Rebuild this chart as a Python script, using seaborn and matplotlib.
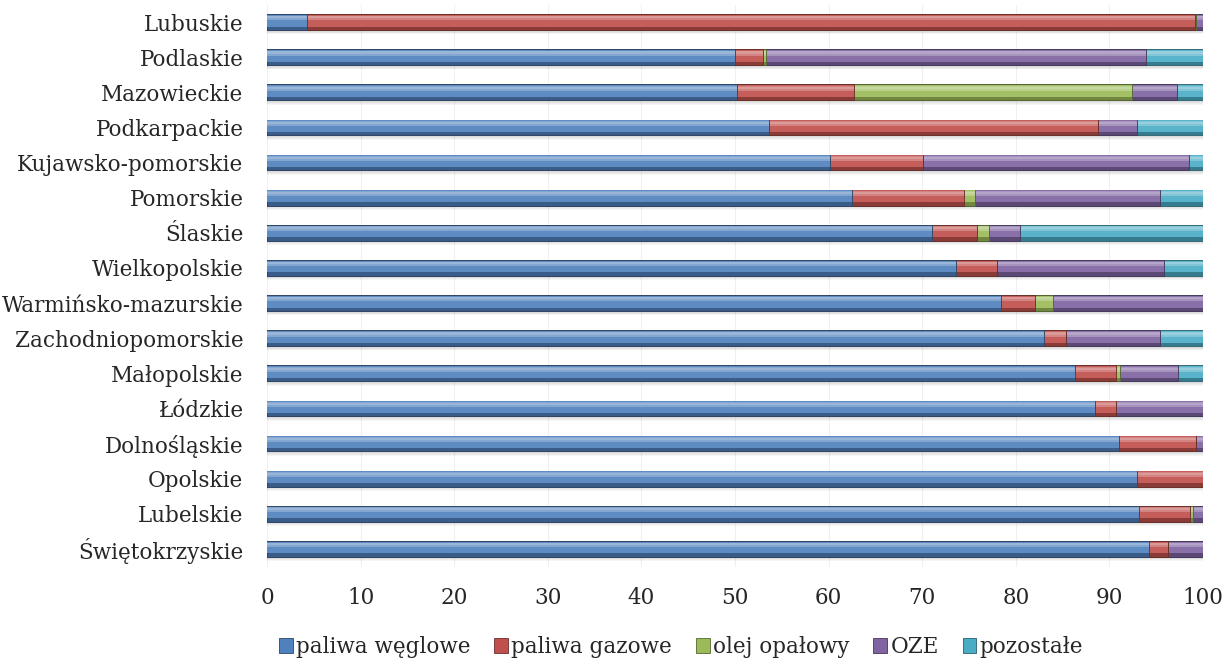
import seaborn as sns
import pandas as pd
import numpy as np
import matplotlib.pyplot as plt
from matplotlib.patches import Patch
import matplotlib.colors as mcolors

# regions, top to bottom as in the chart
regions = ['Lubuskie', 'Podlaskie', 'Mazowieckie', 'Podkarpackie', 'Kujawsko-pomorskie',
           'Pomorskie', 'Ślaskie', 'Wielkopolskie', 'Warmińsko-mazurskie', 'Zachodniopomorskie',
           'Małopolskie', 'Łódzkie', 'Dolnośląskie', 'Opolskie', 'Lubelskie', 'Świętokrzyskie']

# share of heating source, %
weglowe = [4.3, 50.0, 50.2, 53.6, 60.2, 62.5, 71.0, 73.6, 78.4, 83.0, 86.3, 88.5, 91.0, 92.9, 93.2, 94.2]
gazowe = [94.8, 3.0, 12.5, 35.2, 9.9, 12.0, 4.9, 4.4, 3.6, 2.4, 4.4, 2.2, 8.3, 7.1, 5.4, 2.1]
olej = [0.2, 0.3, 29.7, 0.0, 0.0, 1.1, 1.2, 0.0, 2.0, 0.0, 0.4, 0.0, 0.0, 0.0, 0.3, 0.0]
oze = [0.7, 40.6, 4.8, 4.2, 28.4, 19.8, 3.4, 17.8, 16.0, 10.0, 6.2, 9.3, 0.7, 0.0, 1.1, 3.7]
pozostale = [0.0, 6.1, 2.8, 7.0, 1.5, 4.6, 19.5, 4.2, 0.0, 4.6, 2.7, 0.0, 0.0, 0.0, 0.0, 0.0]

series = ['paliwa węglowe', 'paliwa gazowe', 'olej opałowy', 'OZE', 'pozostałe']
colors = ['#4F81BD', '#C0504D', '#9BBB59', '#8064A2', '#4BACC6']

df = pd.DataFrame({'region': regions, series[0]: weglowe, series[1]: gazowe,
                   series[2]: olej, series[3]: oze, series[4]: pozostale})
cum = df[series].cumsum(axis=1)

sns.set_style('white')
plt.rcParams['font.family'] = ['DejaVu Serif']

fig = plt.figure(figsize=(12.24, 6.59), dpi=100)
ax = fig.add_axes([267/1224, 1-566.5/659, (1203-267)/1224, 562/659])

BAR = 0.45


def shade(c, f):
    r = np.array(mcolors.to_rgb(c))
    if f < 0:
        return tuple(r * (1 + f))
    return tuple(r + (1 - r) * f)


def draw(vals, color, width, shift=0.0, **kw):
    n0 = len(ax.patches)
    sns.barplot(x=vals, y=regions, orient='h', color=color, width=width,
                saturation=1, ax=ax, **kw)
    for p in ax.patches[n0:]:
        p.set_y(p.get_y() + shift)


# soft shadow under bars
for k in range(4):
    draw(cum[series[-1]], '#000000', BAR, shift=0.05 + 0.025 * k, alpha=0.035, linewidth=0)

for s, c in reversed(list(zip(series, colors))):
    v = cum[s]
    draw(v, shade(c, -0.28), BAR, edgecolor=shade(c, -0.45), linewidth=0.6)
    h2 = BAR * 0.74
    draw(v, shade(c, 0.08), h2, shift=-(BAR - h2) / 2 + 0.02, linewidth=0)
    h3 = BAR * 0.3
    draw(v, shade(c, 0.3), h3, shift=-(BAR - h3) / 2 + 0.045, linewidth=0)
    h4 = BAR * 0.14
    draw(v, shade(c, 0.42), h4, shift=-(BAR - h4) / 2 + 0.06, linewidth=0)

ax.set_xlim(0, 100)
ax.set_ylim(15.5, -0.5)
ax.set_xticks(np.arange(0, 101, 10))
ax.set_xlabel('')
ax.set_ylabel('')
ax.grid(axis='x', color='#f0f0f0', linewidth=0.8)
ax.set_axisbelow(True)
sns.despine(ax=ax, left=True, bottom=True)
ax.tick_params(axis='y', length=0, pad=17, labelsize=15.5)
ax.tick_params(axis='x', length=0, pad=15, labelsize=15.5)

handles = [Patch(facecolor=c, edgecolor=shade(c, -0.45), linewidth=0.6) for c in colors]
fig.legend(handles, series, loc='center', bbox_to_anchor=(681/1224, 1-647/659), ncol=5,
           frameon=False, fontsize=15.5, handlelength=0.65, handleheight=0.65,
           handletextpad=0.15, columnspacing=1.1)

fig.savefig('out.png', dpi=100)
